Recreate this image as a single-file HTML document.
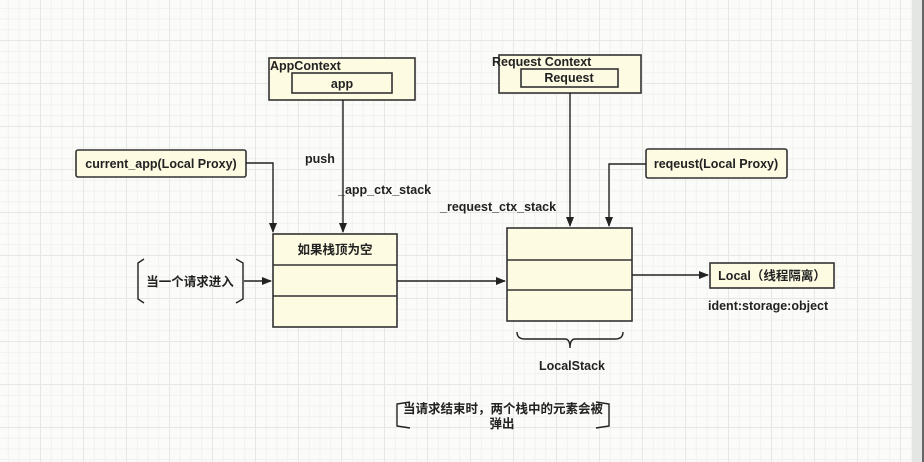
<!DOCTYPE html>
<html><head><meta charset="utf-8"><style>
html,body{margin:0;padding:0}
body{width:924px;height:462px;overflow:hidden;position:relative;background-color:#fbfcf9;
background-image:linear-gradient(#e6e8e4 1px,transparent 1px),linear-gradient(90deg,#e6e8e4 1px,transparent 1px),linear-gradient(#f0f1ee 1px,transparent 1px),linear-gradient(90deg,#f0f1ee 1px,transparent 1px);
background-size:43px 43px,43px 43px,10.75px 10.75px,10.75px 10.75px;background-position:-3px -3px;
font-family:"Liberation Sans","Noto Sans CJK SC",sans-serif;font-weight:bold;color:#222}
</style></head><body>
<svg width="924" height="462" style="position:absolute;left:0;top:0" font-family="Liberation Sans, Noto Sans CJK SC, sans-serif" font-weight="bold" font-size="12.5" fill="#222">
<defs><marker id="a" markerWidth="10" markerHeight="8" refX="9" refY="4" orient="auto" markerUnits="userSpaceOnUse"><path d="M0,0L10,4L0,8z" fill="#222"/></marker></defs>
<rect x="912" y="0" width="10" height="462" fill="#e4e6e4"/><rect x="922" y="0" width="2" height="462" fill="#666"/>
<g stroke="#333" stroke-width="1.6" fill="#fdfbe2">
<rect x="269" y="58" width="146" height="42"/><rect x="292" y="73" width="100" height="20"/>
<rect x="499" y="55" width="142" height="38"/><rect x="521" y="69" width="97" height="18"/>
<rect x="76" y="150" width="170" height="27" rx="2"/>
<rect x="646" y="149" width="141" height="29" rx="2"/>
<rect x="273" y="234" width="124" height="93"/>
<line x1="273" y1="265" x2="397" y2="265"/><line x1="273" y1="296" x2="397" y2="296"/>
<rect x="507" y="228" width="125" height="93"/>
<line x1="507" y1="260" x2="632" y2="260"/><line x1="507" y1="290" x2="632" y2="290"/>
<rect x="710" y="263" width="124" height="25"/>
</g>
<g stroke="#222" stroke-width="1.4" fill="none">
<line x1="343" y1="100" x2="343" y2="232" marker-end="url(#a)"/>
<polyline points="246,163 273,163 273,232" marker-end="url(#a)"/>
<line x1="244" y1="281" x2="271" y2="281" marker-end="url(#a)"/>
<line x1="397" y1="281" x2="505" y2="281" marker-end="url(#a)"/>
<line x1="570" y1="93" x2="570" y2="226" marker-end="url(#a)"/>
<polyline points="646,164 609,164 609,226" marker-end="url(#a)"/>
<line x1="632" y1="275" x2="708" y2="275" marker-end="url(#a)"/>
<path d="M144,259 L138,263 L138,299 L144,303 M236,259 L243,263 L243,299 L236,303"/>
<path d="M517,332 Q517,339 525,339 L565,339 Q570,339 570,348 Q570,339 575,339 L615,339 Q623,339 623,332"/>
<path d="M410,402 L397,404 L397,426 L410,428 M596,402 L609,404 L609,426 L596,428"/>
</g>
<text x="270" y="70">AppContext</text>
<text x="342" y="88" text-anchor="middle">app</text>
<text x="492" y="66">Request Context</text>
<text x="569" y="82" text-anchor="middle">Request</text>
<text x="161" y="168" text-anchor="middle">current_app(Local Proxy)</text>
<text x="716" y="168" text-anchor="middle">reqeust(Local Proxy)</text>
<text x="305" y="163">push</text>
<text x="338" y="194">_app_ctx_stack</text>
<text x="440" y="211">_request_ctx_stack</text>
<text x="335" y="254" text-anchor="middle">如果栈顶为空</text>
<text x="190" y="286" text-anchor="middle">当一个请求进入</text>
<text x="772" y="280" text-anchor="middle">Local（线程隔离）</text>
<text x="708" y="310">ident:storage:object</text>
<text x="572" y="370" text-anchor="middle">LocalStack</text>
<text x="503" y="413" text-anchor="middle">当请求结束时，两个栈中的元素会被</text>
<text x="502" y="428" text-anchor="middle">弹出</text>
</svg>
</body></html>
